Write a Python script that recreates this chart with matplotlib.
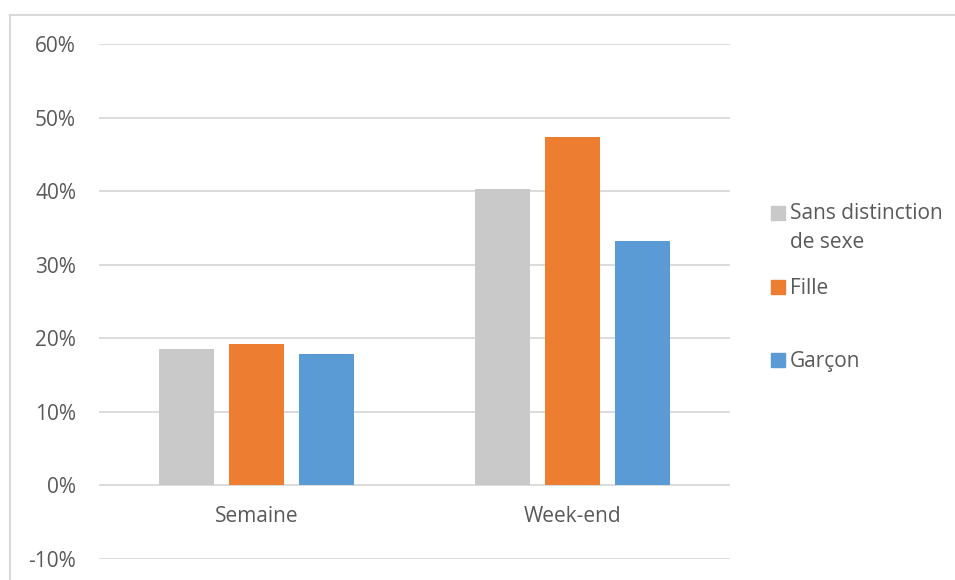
import matplotlib.pyplot as plt
from matplotlib.patches import Rectangle
from matplotlib.lines import Line2D
import matplotlib.transforms as mtransforms
import numpy as np

plt.rcParams['font.family'] = ['Open Sans', 'DejaVu Sans']

# data (percent)
categories = ['Semaine', 'Week-end']
series_names = ['Sans distinction\nde sexe', 'Fille', 'Garçon']
sans_distinction = [18.5, 40.3]
fille = [19.2, 47.4]
garcon = [17.8, 33.2]
yticks = [-10, 0, 10, 20, 30, 40, 50, 60]

colors = ['#C9C9C9', '#ED7D31', '#5B9BD5']
text_col = '#595959'
grid_col = '#D9D9D9'
fs = 15

W, H = 955, 580
fig = plt.figure(figsize=(W / 100, H / 100), dpi=100)

# outer chart frame (Excel style)
fig.add_artist(Line2D([10 / W, 1], [1 - 15 / H, 1 - 15 / H], transform=fig.transFigure,
                      color=grid_col, lw=1.5))
fig.add_artist(Line2D([10 / W, 10 / W], [0, 1 - 15 / H], transform=fig.transFigure,
                      color=grid_col, lw=1.5))

ax = fig.add_axes([99 / W, 21 / H, 631 / W, 515 / H])
x = np.arange(len(categories))
bw = 0.174
step = 0.222
for k, vals in enumerate([sans_distinction, fille, garcon]):
    ax.bar(x + (k - 1) * step, vals, width=bw, color=colors[k], zorder=3)

ax.set_xlim(-0.5, 1.5)
ax.set_ylim(-10, 60)
ax.set_yticks(yticks)
ax.set_yticklabels([f'{t}%' for t in yticks], fontsize=fs, color=text_col)
ax.tick_params(axis='y', length=0, pad=16.5)
ax.set_xticks([])
ax.grid(axis='y', color=grid_col, lw=1.3, zorder=0)
for s in ax.spines.values():
    s.set_visible(False)

# category labels under the 0 line
off = mtransforms.offset_copy(ax.transData, fig=fig, x=0, y=-31, units='dots')
for i, c in enumerate(categories):
    ax.text(i, 0, c, transform=off, ha='center', va='center', fontsize=fs, color=text_col)

# legend drawn by hand
leg_y = [213, 287, 360]
for k, name in enumerate(series_names):
    yc = 1 - leg_y[k] / H
    fig.add_artist(Rectangle((771 / W, yc - 7 / H), 14 / W, 14 / H, transform=fig.transFigure,
                             color=colors[k]))
    if '\n' in name:
        fig.text(790 / W, yc + 10 / H, name, ha='left', va='top', fontsize=fs,
                 color=text_col, linespacing=1.5)
    else:
        fig.text(790 / W, yc - 2 / H, name, ha='left', va='center', fontsize=fs, color=text_col)

fig.savefig('out.png', dpi=100)
